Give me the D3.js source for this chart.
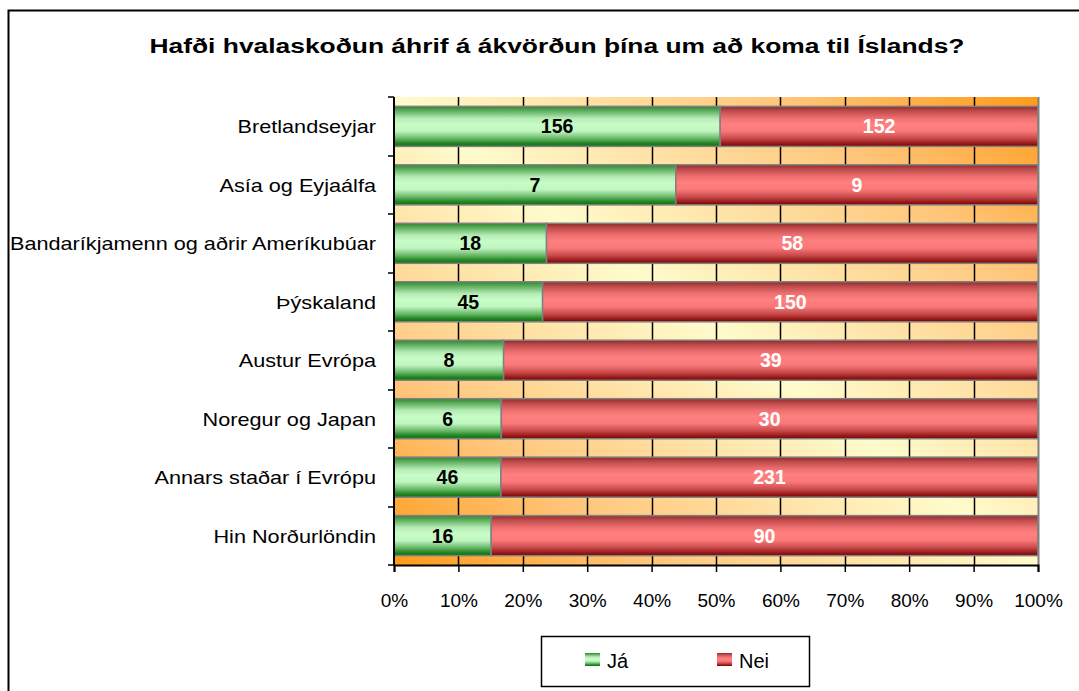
<!DOCTYPE html>
<html>
<head>
<meta charset="utf-8">
<script src="https://cdn.jsdelivr.net/npm/d3@7"></script>
<style>
  body { margin: 0; background: #fff; }
  svg { display: block; font-family: "Liberation Sans", Arial, sans-serif; }
</style>
</head>
<body>
<div id="chart"></div>
<script>
var categories = ["Bretlandseyjar", "Asía og Eyjaálfa", "Bandaríkjamenn og aðrir Ameríkubúar", "Þýskaland",
                  "Austur Evrópa", "Noregur og Japan", "Annars staðar í Evrópu", "Hin Norðurlöndin"];
var ja = [156, 7, 18, 45, 8, 6, 46, 16];
var nei = [152, 9, 58, 150, 39, 30, 231, 90];
var xTicks = [0, 0.1, 0.2, 0.3, 0.4, 0.5, 0.6, 0.7, 0.8, 0.9, 1];
var seriesNames = ["Já", "Nei"];
var title = "Hafði hvalaskoðun áhrif á ákvörðun þína um að koma til Íslands?";

var W = 1079, H = 691;
var plot = {left: 394, right: 1038, top: 97, bottom: 565};

var svg = d3.select("#chart").append("svg").attr("width", W).attr("height", H);
var defs = svg.append("defs");

// plot background: orange corners, pale yellow diagonal
var bg = defs.append("linearGradient").attr("id", "bgGrad")
  .attr("x1", 1).attr("y1", 0).attr("x2", 0).attr("y2", 1);
[[0, "#ff9a18"], [0.2, "#ffc57a"], [0.5, "#fffbcc"], [0.8, "#ffc57a"], [1, "#ff9a18"]].forEach(function (s) {
  bg.append("stop").attr("offset", s[0]).attr("stop-color", s[1]);
});

function barGrad(id, stops) {
  var g = defs.append("linearGradient").attr("id", id).attr("x1", 0).attr("y1", 0).attr("x2", 0).attr("y2", 1);
  stops.forEach(function (s) { g.append("stop").attr("offset", s[0]).attr("stop-color", s[1]); });
}
barGrad("greenGrad", [[0, "#2f852f"], [0.12, "#62b062"], [0.3, "#b5ecb5"], [0.45, "#c8fcc8"], [0.62, "#c0f6c0"],
                      [0.8, "#6ab86a"], [0.92, "#228522"], [1, "#0d730d"]]);
barGrad("redGrad", [[0, "#8e2a2a"], [0.12, "#c04c4c"], [0.3, "#f07070"], [0.45, "#ff8080"], [0.62, "#fa7878"],
                    [0.8, "#c84a4a"], [0.92, "#9a1c1c"], [1, "#780000"]]);

// stretch text horizontally (the original chart text is wider than the font)
function stretch(sel, k) {
  sel.each(function () {
    var len = this.getComputedTextLength();
    d3.select(this).attr("textLength", len * k).attr("lengthAdjust", "spacingAndGlyphs");
  });
}

// outer frame
svg.append("rect").attr("x", 8.5).attr("y", 10.5).attr("width", W + 20).attr("height", H + 20)
  .attr("fill", "none").attr("stroke", "#000").attr("stroke-width", 2);

var titleText = svg.append("text").attr("x", 557).attr("y", 53).attr("text-anchor", "middle")
  .style("font-size", "20px").style("font-weight", "bold").text(title);
titleText.attr("textLength", 815).attr("lengthAdjust", "spacingAndGlyphs");

var x = d3.scaleLinear().domain([0, 1]).range([plot.left, plot.right]);
var y = d3.scaleBand().domain(categories).range([plot.top, plot.bottom]).paddingInner(0.315).paddingOuter(0.16);

svg.append("rect").attr("x", plot.left).attr("y", plot.top)
  .attr("width", plot.right - plot.left).attr("height", plot.bottom - plot.top)
  .attr("fill", "url(#bgGrad)");

// vertical gridlines
svg.append("g").selectAll("line").data(xTicks.slice(1, -1)).enter().append("line")
  .attr("x1", function (d) { return Math.round(x(d)) + 0.5; })
  .attr("x2", function (d) { return Math.round(x(d)) + 0.5; })
  .attr("y1", plot.top).attr("y2", plot.bottom)
  .attr("stroke", "#000").attr("stroke-width", 1.5);

var rows = categories.map(function (c, i) {
  var tot = ja[i] + nei[i];
  return {cat: c, ja: ja[i], nei: nei[i], p: ja[i] / tot};
});

var bars = svg.append("g").selectAll("g").data(rows).enter().append("g");
bars.append("rect")
  .attr("x", x(0)).attr("y", function (d) { return y(d.cat); })
  .attr("width", function (d) { return x(d.p) - x(0); })
  .attr("height", y.bandwidth())
  .attr("fill", "url(#greenGrad)").attr("stroke", "#808080").attr("stroke-width", 1.5);
bars.append("rect")
  .attr("x", function (d) { return x(d.p); }).attr("y", function (d) { return y(d.cat); })
  .attr("width", function (d) { return x(1) - x(d.p); })
  .attr("height", y.bandwidth())
  .attr("fill", "url(#redGrad)").attr("stroke", "#808080").attr("stroke-width", 1.5);

bars.append("text")
  .attr("x", function (d) { return (x(0) + x(d.p)) / 2; })
  .attr("y", function (d) { return y(d.cat) + y.bandwidth() / 2 + 7; })
  .attr("text-anchor", "middle").style("font-size", "19.5px").style("font-weight", "bold")
  .attr("fill", "#000").text(function (d) { return d.ja; });
bars.append("text")
  .attr("x", function (d) { return (x(d.p) + x(1)) / 2; })
  .attr("y", function (d) { return y(d.cat) + y.bandwidth() / 2 + 7; })
  .attr("text-anchor", "middle").style("font-size", "19.5px").style("font-weight", "bold")
  .attr("fill", "#fff").text(function (d) { return d.nei; });

// plot right border
svg.append("line").attr("x1", plot.right + 0.5).attr("x2", plot.right + 0.5)
  .attr("y1", plot.top).attr("y2", plot.bottom).attr("stroke", "#808080").attr("stroke-width", 2);

// y axis with ticks at band boundaries
var yBounds = d3.range(categories.length + 1).map(function (i) { return plot.top + i * (plot.bottom - plot.top) / categories.length; });
var yAxis = svg.append("g");
yAxis.append("line").attr("x1", plot.left).attr("x2", plot.left).attr("y1", plot.top).attr("y2", plot.bottom)
  .attr("stroke", "#000").attr("stroke-width", 2);
yAxis.selectAll("line.t").data(yBounds).enter().append("line").attr("class", "t")
  .attr("x1", plot.left - 6).attr("x2", plot.left)
  .attr("y1", function (d) { return Math.round(d); }).attr("y2", function (d) { return Math.round(d); })
  .attr("stroke", "#000").attr("stroke-width", 1.5);
var catLabels = yAxis.selectAll("text").data(categories).enter().append("text")
  .attr("x", 376).attr("y", function (d) { return y(d) + y.bandwidth() / 2 + 7; })
  .attr("text-anchor", "end").style("font-size", "19px").attr("fill", "#000").text(function (d) { return d; });
stretch(catLabels, 1.14);

// x axis
var xAxis = d3.axisBottom(x).tickValues(xTicks).tickFormat(d3.format(".0%")).tickSize(7).tickPadding(21.5);
var gx = svg.append("g").attr("transform", "translate(0," + plot.bottom + ")").call(xAxis);
gx.select(".domain").attr("stroke", "#000").attr("stroke-width", 2);
gx.selectAll(".tick line").attr("stroke", "#000").attr("stroke-width", 1.5);
gx.selectAll(".tick text").style("font-size", "19px").style("font-family", "Liberation Sans, Arial, sans-serif").attr("fill", "#000");

// legend
var lg = svg.append("g");
lg.append("rect").attr("x", 541.5).attr("y", 636.5).attr("width", 268).attr("height", 50)
  .attr("fill", "#fff").attr("stroke", "#000").attr("stroke-width", 1.5);
var legendX = [585, 717];
seriesNames.forEach(function (n, i) {
  lg.append("rect").attr("x", legendX[i]).attr("y", 653).attr("width", 15).attr("height", 13)
    .attr("fill", i === 0 ? "url(#greenGrad)" : "url(#redGrad)");
  lg.append("text").attr("x", legendX[i] + 22).attr("y", 668).style("font-size", "20px").attr("fill", "#000").text(n);
});
</script>
</body>
</html>
